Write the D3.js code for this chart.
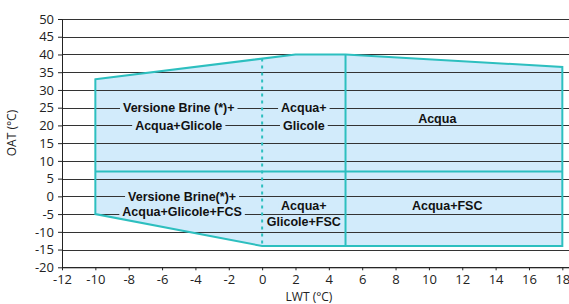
<!DOCTYPE html>
<html>
<head>
<meta charset="utf-8">
<script src="https://cdn.jsdelivr.net/npm/d3@7"></script>
<style>
  body { margin: 0; background: #fff; }
  text { font-family: "Open Sans", "Liberation Sans", sans-serif; }
</style>
</head>
<body>
<div id="chart-container"></div>
<script>
'use strict';

// operating envelope, corners in (LWT, OAT)
const envelopeLWT = [-10, 2, 5, 18, 18, 0, -10];
const envelopeOAT = [33, 40, 40, 36.5, -14, -14, -5];

// zone borders
const dashedLWT = 0;
const solidLWT = 5;
const splitOAT = 7;

// zone labels
const labelText = ['Versione Brine (*)+', 'Acqua+Glicole', 'Acqua+', 'Glicole', 'Acqua',
  'Versione Brine(*)+', 'Acqua+Glicole+FCS', 'Acqua+', 'Glicole+FSC', 'Acqua+FSC'];
const labelLWT = [-5, -5, 2.5, 2.5, 10.5, -4.8, -4.8, 2.5, 2.5, 11.1];
const labelOAT = [25, 20, 25, 20, 22, 0, -4.4, -2.5, -7, -2.5];

const xTicks = d3.range(-12, 19, 2);
const yTicks = d3.range(-20, 51, 5);

var width = 569;
var height = 304;
var teal = '#2dbfbf';
var fillBlue = '#d2ebfb';

var svg = d3.select('#chart-container')
  .append('svg')
  .attr('width', width)
  .attr('height', height);

var x = d3.scaleLinear().domain([-12, 18.4]).range([62, 569]);
var y = d3.scaleLinear().domain([-20, 50]).range([267.3, 19]);

var envelope = envelopeLWT.map((d, i) => [x(d), y(envelopeOAT[i])]);

// fill first, grid on top of it
svg.append('polygon')
  .attr('points', envelope.map(p => p.join(',')).join(' '))
  .attr('fill', fillBlue);

svg.append('g')
  .selectAll('line')
  .data(yTicks)
  .enter()
  .append('line')
  .attr('x1', x.range()[0])
  .attr('x2', x.range()[1])
  .attr('y1', d => Math.round(y(d)) + 0.5)
  .attr('y2', d => Math.round(y(d)) + 0.5)
  .attr('stroke', '#333')
  .attr('stroke-width', 1.1);

// axes
var yAxis = svg.append('g')
  .attr('transform', 'translate(' + x.range()[0] + ',0)')
  .call(d3.axisLeft(y).tickValues(yTicks).tickSize(4).tickSizeOuter(0).tickPadding(4));
var xAxis = svg.append('g')
  .attr('transform', 'translate(0,' + y(-20) + ')')
  .call(d3.axisBottom(x).tickValues(xTicks).tickSize(3).tickSizeOuter(0).tickPadding(4));

[xAxis, yAxis].forEach(function(g) {
  g.selectAll('text')
    .attr('font-size', 13)
    .attr('fill', '#222')
    .style('font-family', '"Open Sans", sans-serif');
  g.select('.domain').attr('stroke', '#222');
  g.selectAll('.tick line').attr('stroke', '#222');
});
xAxis.selectAll('.tick text').text(d => d < 0 ? '-' + Math.abs(d) : d);
yAxis.selectAll('.tick text').text(d => d < 0 ? '-' + Math.abs(d) : d);

svg.append('text')
  .attr('x', 309)
  .attr('y', 301)
  .attr('text-anchor', 'middle')
  .attr('font-size', 12)
  .attr('fill', '#222')
  .text('LWT (°C)');

svg.append('text')
  .attr('transform', 'translate(16,133) rotate(-90)')
  .attr('text-anchor', 'middle')
  .attr('font-size', 12)
  .attr('fill', '#222')
  .text('OAT (°C)');

// labels with background patches that cut the grid
var labels = svg.append('g');
labelText.forEach(function(t, i) {
  var g = labels.append('g');
  var txt = g.append('text')
    .attr('x', x(labelLWT[i]))
    .attr('y', y(labelOAT[i]))
    .attr('dy', '0.36em')
    .attr('text-anchor', 'middle')
    .attr('font-size', 12.5)
    .attr('font-weight', 'bold')
    .attr('fill', '#111')
    .style('font-family', '"Liberation Sans", Arial, sans-serif')
    .text(t);
  var bb = txt.node().getBBox();
  g.insert('rect', 'text')
    .attr('x', bb.x - 3)
    .attr('y', y(labelOAT[i]) - 5)
    .attr('width', bb.width + 6)
    .attr('height', 10)
    .attr('fill', fillBlue);
});

// teal borders
var edgeTop = d3.interpolateNumber(envelopeOAT[0], envelopeOAT[1]);
var dashTop = edgeTop((dashedLWT - envelopeLWT[0]) / (envelopeLWT[1] - envelopeLWT[0]));

svg.append('line')
  .attr('x1', x(dashedLWT)).attr('x2', x(dashedLWT))
  .attr('y1', y(dashTop)).attr('y2', y(envelopeOAT[5]))
  .attr('stroke', teal)
  .attr('stroke-width', 2)
  .attr('stroke-dasharray', '3,4');

svg.append('line')
  .attr('x1', x(solidLWT)).attr('x2', x(solidLWT))
  .attr('y1', y(envelopeOAT[2])).attr('y2', y(envelopeOAT[4]))
  .attr('stroke', teal)
  .attr('stroke-width', 2);

svg.append('line')
  .attr('x1', x(envelopeLWT[0])).attr('x2', x(envelopeLWT[3]))
  .attr('y1', y(splitOAT)).attr('y2', y(splitOAT))
  .attr('stroke', teal)
  .attr('stroke-width', 2);

svg.append('polygon')
  .attr('points', envelope.map(p => p.join(',')).join(' '))
  .attr('fill', 'none')
  .attr('stroke', teal)
  .attr('stroke-width', 2)
  .attr('stroke-linejoin', 'miter');
</script>
</body>
</html>
